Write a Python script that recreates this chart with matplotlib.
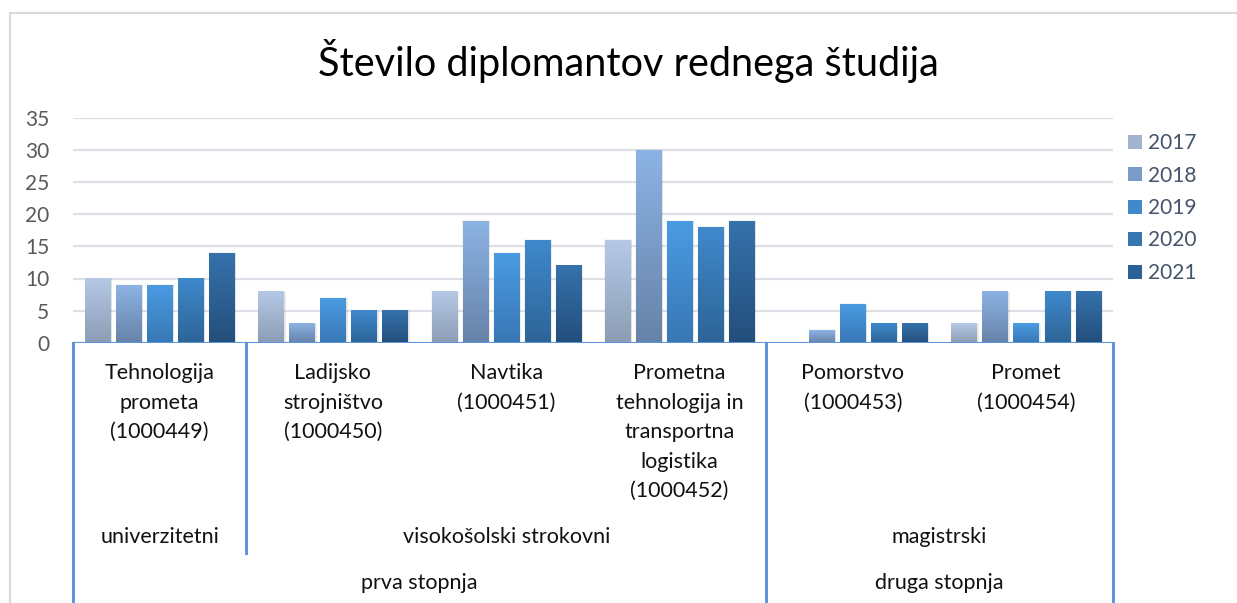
import numpy as np
import matplotlib.pyplot as plt
from matplotlib.colors import LinearSegmentedColormap
from matplotlib.patches import Patch, Rectangle

plt.rcParams.update({
    "font.family": ["Lato", "DejaVu Sans"],
    "font.size": 15,
})

YEARS = ["2017", "2018", "2019", "2020", "2021"]
PROGRAMS = [
    "Tehnologija\nprometa\n(1000449)",
    "Ladijsko\nstrojništvo\n(1000450)",
    "Navtika\n(1000451)",
    "Prometna\ntehnologija in\ntransportna\nlogistika\n(1000452)",
    "Pomorstvo\n(1000453)",
    "Promet\n(1000454)",
]
V2017 = [10, 8, 8, 16, 0, 3]
V2018 = [9, 3, 19, 30, 2, 8]
V2019 = [9, 7, 14, 19, 6, 3]
V2020 = [10, 5, 16, 18, 3, 8]
V2021 = [14, 5, 12, 19, 3, 8]
SERIES = [V2017, V2018, V2019, V2020, V2021]

# (label, first category, last category)
VRSTA = [("univerzitetni", 0, 0), ("visokošolski strokovni", 1, 3), ("magistrski", 4, 5)]
STOPNJA = [("prva stopnja", 0, 3), ("druga stopnja", 4, 5)]

# gradient top/bottom per year (Excel-like fill)
GRAD = [("#b5c9e7", "#8c9cb4"),
        ("#8cb3e4", "#6782a8"),
        ("#4b9be2", "#3877b5"),
        ("#3f89cc", "#2d6497"),
        ("#3672ac", "#234e7b")]
AXIS_BLUE = "#5b96d8"

fig = plt.figure(figsize=(12.37, 6.03), dpi=100)
ax = fig.add_axes([73 / 1237, 1 - 342.7 / 603, (1112.7 - 73) / 1237, (342.7 - 118) / 603])

x = np.arange(len(PROGRAMS))
step, width = 0.179, 0.145
for i, (vals, (top, bot)) in enumerate(zip(SERIES, GRAD)):
    bars = ax.bar(x + (i - 2) * step, vals, width, color="none", zorder=3)
    cmap = LinearSegmentedColormap.from_list(f"g{i}", [bot, top])
    for r in bars:
        h = r.get_height()
        if h <= 0:
            continue
        x0, w = r.get_x(), r.get_width()
        # soft shadow
        ax.add_patch(Rectangle((x0 + 0.004, -0.1), w + 0.008, h + 0.05,
                               facecolor="#000000", alpha=0.07, lw=0, zorder=2.5))
        ax.add_patch(Rectangle((x0 - 0.003, 0), w + 0.012, h + 0.12,
                               facecolor="#000000", alpha=0.04, lw=0, zorder=2.4))
        ax.imshow(np.linspace(0, 1, 128).reshape(-1, 1), extent=(x0, x0 + w, 0, h),
                  origin="lower", cmap=cmap, aspect="auto", zorder=3, interpolation="bilinear")

ax.set_xlim(-0.5, len(PROGRAMS) - 0.5)
ax.set_ylim(0, 35)
ax.set_aspect("auto")
ax.set_yticks(range(0, 36, 5))
ax.set_xticks([])
ax.tick_params(axis="y", length=0, pad=17, labelsize=15, labelcolor="#595959")
for s in ax.spines.values():
    s.set_visible(False)
ax.yaxis.grid(True, color="#dde1e7", lw=1.6)
ax.set_axisbelow(True)
ax.axhline(0, color=AXIS_BLUE, lw=2.2, zorder=5)

# multi-level category axis
tr = ax.get_xaxis_transform()
full = -(603 - 342.7) / 224.7
mid = -(553 - 342.7) / 224.7
for xi, lab in zip(x, PROGRAMS):
    ax.text(xi, -0.09, lab, transform=tr, ha="center", va="top", fontsize=15.5,
            linespacing=1.6, color="#111111")
for lab, a, b in VRSTA:
    ax.text((a + b) / 2, -0.865, lab, transform=tr, ha="center", va="center",
            fontsize=15.5, color="#111111")
for lab, a, b in STOPNJA:
    ax.text((a + b) / 2, -1.07, lab, transform=tr, ha="center", va="center",
            fontsize=15.5, color="#111111")

big_edges = {a - 0.5 for _, a, _ in STOPNJA} | {b + 0.5 for _, _, b in STOPNJA}
small_edges = ({a - 0.5 for _, a, _ in VRSTA} | {b + 0.5 for _, _, b in VRSTA}) - big_edges
for e in big_edges:
    ax.plot([e, e], [0, full], transform=tr, color=AXIS_BLUE, lw=2.2, clip_on=False, zorder=5)
for e in small_edges:
    ax.plot([e, e], [0, mid], transform=tr, color=AXIS_BLUE, lw=2.2, clip_on=False, zorder=5)

handles = [Patch(facecolor=LinearSegmentedColormap.from_list("h", [b, t])(0.5), label=y)
           for y, (t, b) in zip(YEARS, GRAD)]
fig.legend(handles=handles, loc="upper left", bbox_to_anchor=(1128 / 1237, 1 - 133 / 603),
           frameon=False, fontsize=15, handlelength=0.68, handleheight=0.68,
           handletextpad=0.3, labelspacing=0.6, borderpad=0, borderaxespad=0,
           labelcolor="#44546a")

fig.text(0.508, 1 - 61 / 603, "Število diplomantov rednega študija", ha="center", va="center",
         fontsize=28.5, color="#000000")

fig.patches.append(Rectangle((9.5 / 1237, -0.1), 1.2, 1.1 - 13.5 / 603, transform=fig.transFigure,
                             fill=False, edgecolor="#d9d9d9", lw=1.5))

fig.savefig("out.png", dpi=100)
